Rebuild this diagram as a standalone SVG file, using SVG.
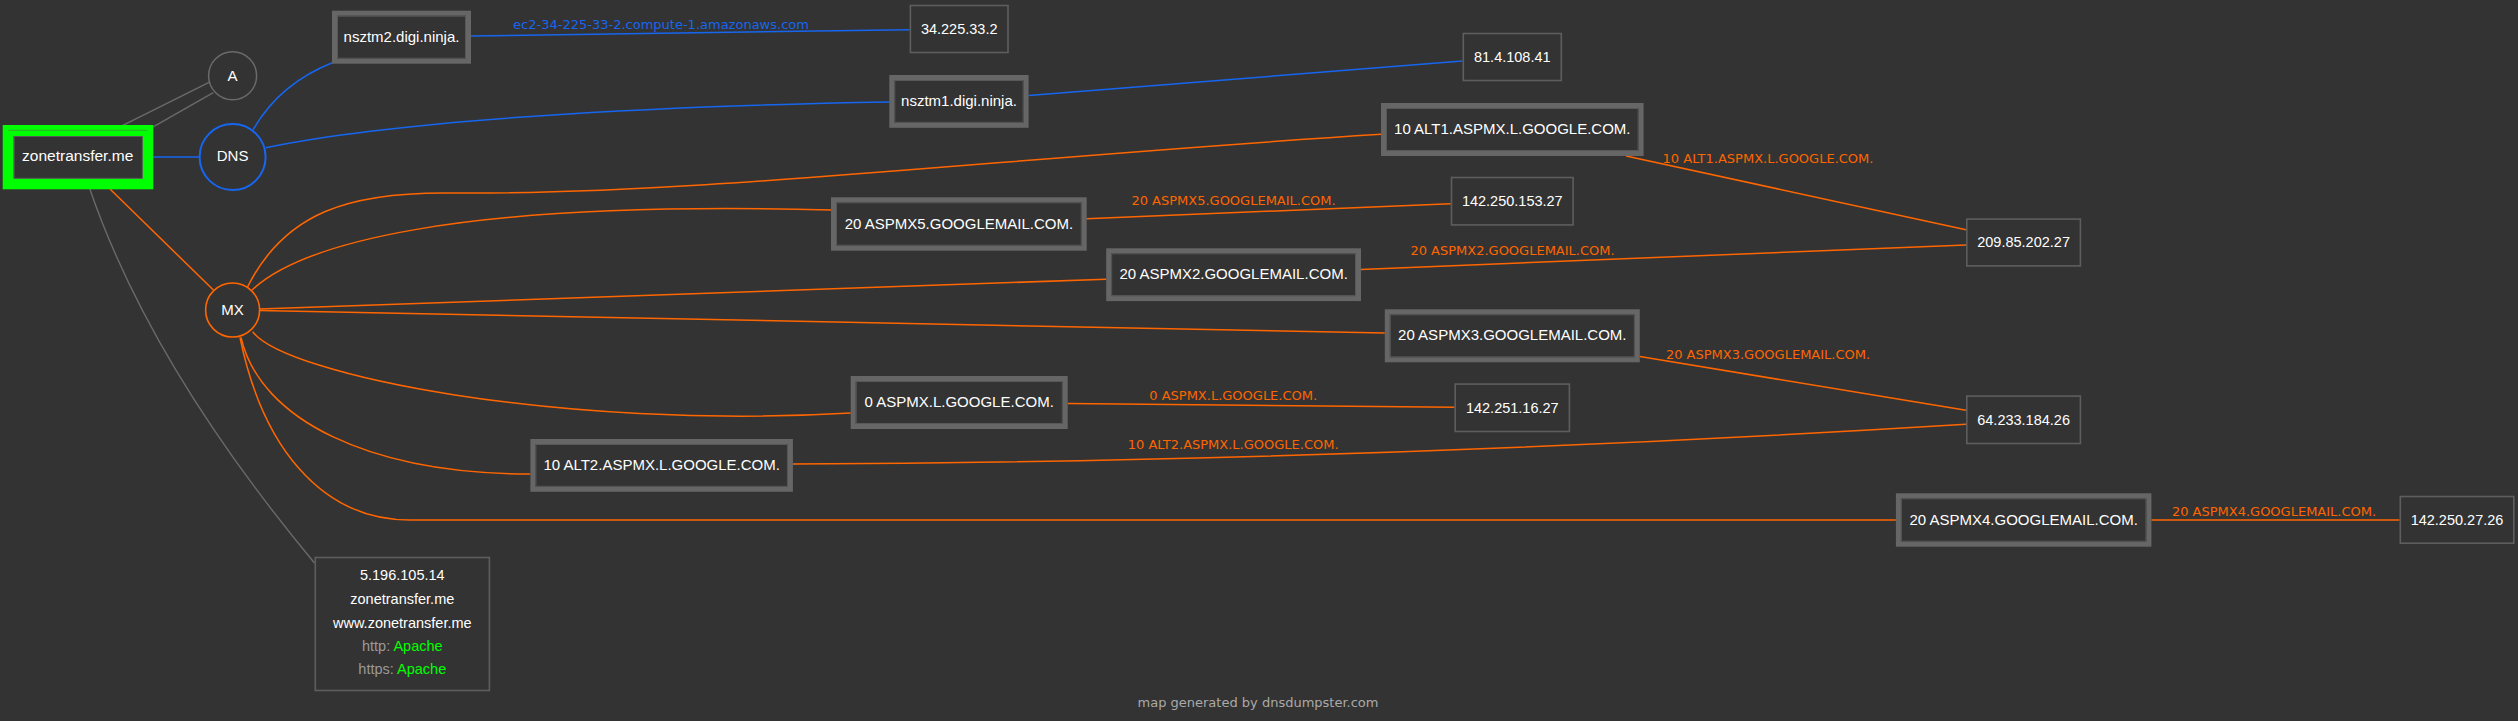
<svg xmlns="http://www.w3.org/2000/svg" width="2518" height="721" viewBox="0 0 2518 721">
<style>
.bg{fill:#333333}
.e{fill:none;stroke-width:1.5}
.o{stroke:#ff6600}
.b{stroke:#1666f0}
.g{stroke:#6a6a6a;stroke-width:1.4}
.box{fill:#333333;stroke:#666666;stroke-width:5}
.inner{fill:none;stroke:#585858;stroke-width:1}
.ip{fill:#333333;stroke:#5e5e5e;stroke-width:1.6}
.t{font-family:"Liberation Sans",Arial,sans-serif;font-size:15px;fill:#ffffff;text-anchor:middle}
.it{font-family:"Liberation Sans",Arial,sans-serif;font-size:14.5px;fill:#ffffff;text-anchor:middle}
.lbl{font-family:"DejaVu Sans",Verdana,sans-serif;font-size:13px;text-anchor:middle}
.lo{fill:#ff6600}
.lb{fill:#1666f0}
.foot{font-family:"DejaVu Sans",Verdana,sans-serif;font-size:13px;fill:#aaaaaa;text-anchor:middle}
</style>
<rect class="bg" x="0" y="0" width="2518" height="721"/>
<g id="connectors">
  <path class="e b" d="M153.3,157 L199.5,157"/>
  <path class="e b" d="M253,130 C266,107 288,80 334,62"/>
  <path class="e b" d="M265.7,147.7 C400,120 650,106 889.3,102"/>
  <path class="e b" d="M471,36 L909.6,29.7"/>
  <path class="e b" d="M1028.6,95.5 L1462.5,61"/>
  <path class="e g" d="M118.3,127.7 L209,82.3"/>
  <path class="e g" d="M152.3,127.3 L213.3,92.7"/>
  <path class="e g" d="M89.5,188 Q150,365 314.5,563"/>
  <path class="e o" d="M110,189 L213.4,290"/>
  <path class="e o" d="M247.5,287 C285,212 350,192 450,193 C700,195 1000,158 1381,134.3"/>
  <path class="e o" d="M252,290 C300,245 450,200 831,210"/>
  <path class="e o" d="M259.5,309 L1106.2,279.2"/>
  <path class="e o" d="M259.5,310.5 L1384.8,333"/>
  <path class="e o" d="M252.7,331.7 C285,375 560,430 850.7,413"/>
  <path class="e o" d="M241,337.5 C260,420 370,474 530.4,474"/>
  <path class="e o" d="M240,337.5 C262,445 320,520 410,520 L1895.9,520"/>
  <path class="e o" d="M1626,156 L1966,229.7"/>
  <path class="e o" d="M1086.5,218.7 L1450.7,203.7"/>
  <path class="e o" d="M1360.7,269.5 L1966,244.9"/>
  <path class="e o" d="M1639.8,356.5 L1966,410.3"/>
  <path class="e o" d="M1067.7,403.5 L1454.4,407.2"/>
  <path class="e o" d="M792.9,464 Q1350,462 1966,424.3"/>
  <path class="e o" d="M2151.4,520 L2399.5,520"/>
  <text class="lbl lb" x="661" y="28.5">ec2-34-225-33-2.compute-1.amazonaws.com</text>
  <text class="lbl lo" x="1233.5" y="205">20 ASPMX5.GOOGLEMAIL.COM.</text>
  <text class="lbl lo" x="1768" y="163.3">10 ALT1.ASPMX.L.GOOGLE.COM.</text>
  <text class="lbl lo" x="1512.5" y="254.7">20 ASPMX2.GOOGLEMAIL.COM.</text>
  <text class="lbl lo" x="1768" y="358.5">20 ASPMX3.GOOGLEMAIL.COM.</text>
  <text class="lbl lo" x="1233.2" y="399.7">0 ASPMX.L.GOOGLE.COM.</text>
  <text class="lbl lo" x="1233.2" y="449">10 ALT2.ASPMX.L.GOOGLE.COM.</text>
  <text class="lbl lo" x="2274" y="516">20 ASPMX4.GOOGLEMAIL.COM.</text>
</g>
<g id="node-zonetransfer">
  <rect x="8.2" y="130.5" width="139.6" height="53.3" fill="#333333" stroke="#00ff00" stroke-width="11"/>
  <line x1="8.5" y1="130.3" x2="147.5" y2="130.3" stroke="#33aa33" stroke-width="1"/>
  <rect class="inner" x="14.2" y="136.5" width="128.1" height="41.8"/>
  <text class="t" x="77.7" y="161" style="font-size:15.5px">zonetransfer.me</text>
</g>
<g id="node-A">
  <circle cx="232.6" cy="75.7" r="24" fill="#333333" stroke="#6a6a6a" stroke-width="1.5"/>
  <text class="t" x="232.6" y="80.8">A</text>
</g>
<g id="node-DNS">
  <circle cx="232.6" cy="157" r="33" fill="#333333" stroke="#1666f0" stroke-width="2"/>
  <text class="t" x="232.6" y="161.3">DNS</text>
</g>
<g id="node-MX">
  <circle cx="232.6" cy="310" r="27" fill="#333333" stroke="#ff6600" stroke-width="1.6"/>
  <text class="t" x="232.6" y="314.8">MX</text>
</g>
<g id="node-nsztm2">
  <rect class="box" x="334.5" y="13.2" width="134" height="48"/>
  <rect class="inner" x="337.5" y="16.2" width="128" height="42"/>
  <text class="t" x="401.5" y="41.7">nsztm2.digi.ninja.</text>
</g>
<g id="node-nsztm1">
  <rect class="box" x="891.8" y="77.5" width="134.3" height="47.8"/>
  <rect class="inner" x="894.8" y="80.5" width="128.3" height="41.8"/>
  <text class="t" x="959" y="105.7">nsztm1.digi.ninja.</text>
</g>
<g id="node-alt1">
  <rect class="box" x="1383.5" y="105.5" width="257.6" height="48"/>
  <rect class="inner" x="1386.5" y="108.5" width="251.6" height="42"/>
  <text class="t" x="1512.3" y="134">10 ALT1.ASPMX.L.GOOGLE.COM.</text>
</g>
<g id="node-aspmx5">
  <rect class="box" x="833.5" y="199.8" width="250.7" height="48.4"/>
  <rect class="inner" x="836.5" y="202.8" width="244.7" height="42.4"/>
  <text class="t" x="958.9" y="228.5">20 ASPMX5.GOOGLEMAIL.COM.</text>
</g>
<g id="node-aspmx2">
  <rect class="box" x="1108.7" y="250.8" width="249.8" height="47.8"/>
  <rect class="inner" x="1111.7" y="253.8" width="243.8" height="41.8"/>
  <text class="t" x="1233.6" y="279.2">20 ASPMX2.GOOGLEMAIL.COM.</text>
</g>
<g id="node-aspmx3">
  <rect class="box" x="1387.3" y="311.8" width="250" height="48"/>
  <rect class="inner" x="1390.3" y="314.8" width="244" height="42"/>
  <text class="t" x="1512.3" y="340.3">20 ASPMX3.GOOGLEMAIL.COM.</text>
</g>
<g id="node-aspmx">
  <rect class="box" x="853.2" y="378.5" width="212" height="48"/>
  <rect class="inner" x="856.2" y="381.5" width="206" height="42"/>
  <text class="t" x="959.2" y="407">0 ASPMX.L.GOOGLE.COM.</text>
</g>
<g id="node-alt2">
  <rect class="box" x="532.9" y="441.5" width="257.5" height="47.8"/>
  <rect class="inner" x="535.9" y="444.5" width="251.5" height="41.8"/>
  <text class="t" x="661.7" y="469.8">10 ALT2.ASPMX.L.GOOGLE.COM.</text>
</g>
<g id="node-aspmx4">
  <rect class="box" x="1898.4" y="495.8" width="250.5" height="48.4"/>
  <rect class="inner" x="1901.4" y="498.8" width="244.5" height="42.4"/>
  <text class="t" x="2023.7" y="524.5">20 ASPMX4.GOOGLEMAIL.COM.</text>
</g>
<g id="ip-34-225-33-2">
  <rect class="ip" x="910.4" y="5.5" width="97.6" height="47"/>
  <text class="it" x="959.2" y="34">34.225.33.2</text>
</g>
<g id="ip-81-4-108-41">
  <rect class="ip" x="1463.3" y="33.5" width="98" height="47"/>
  <text class="it" x="1512.3" y="62">81.4.108.41</text>
</g>
<g id="ip-142-250-153-27">
  <rect class="ip" x="1451.5" y="177.5" width="121.6" height="47.4"/>
  <text class="it" x="1512.3" y="206">142.250.153.27</text>
</g>
<g id="ip-209-85-202-27">
  <rect class="ip" x="1966.8" y="219.1" width="113.6" height="46.8"/>
  <text class="it" x="2023.6" y="247">209.85.202.27</text>
</g>
<g id="ip-142-251-16-27">
  <rect class="ip" x="1455.2" y="384.1" width="114.2" height="47.4"/>
  <text class="it" x="1512.3" y="412.5">142.251.16.27</text>
</g>
<g id="ip-64-233-184-26">
  <rect class="ip" x="1966.8" y="396.1" width="113.6" height="47.4"/>
  <text class="it" x="2023.6" y="424.5">64.233.184.26</text>
</g>
<g id="ip-142-250-27-26">
  <rect class="ip" x="2400.3" y="496.5" width="113.5" height="46.7"/>
  <text class="it" x="2457" y="524.6">142.250.27.26</text>
</g>
<g id="host-5-196-105-14">
  <rect class="ip" x="315.3" y="557.5" width="174.1" height="133"/>
  <text class="it" x="402.3" y="580">5.196.105.14</text>
  <text class="it" x="402.3" y="604">zonetransfer.me</text>
  <text class="it" x="402.3" y="627.7">www.zonetransfer.me</text>
  <text class="it" x="402.3" y="650.5"><tspan fill="#9a9a9a">http: </tspan><tspan fill="#00ff00">Apache</tspan></text>
  <text class="it" x="402.3" y="673.5"><tspan fill="#9a9a9a">https: </tspan><tspan fill="#00ff00">Apache</tspan></text>
</g>
<text class="foot" x="1258" y="707">map generated by dnsdumpster.com</text>
</svg>
